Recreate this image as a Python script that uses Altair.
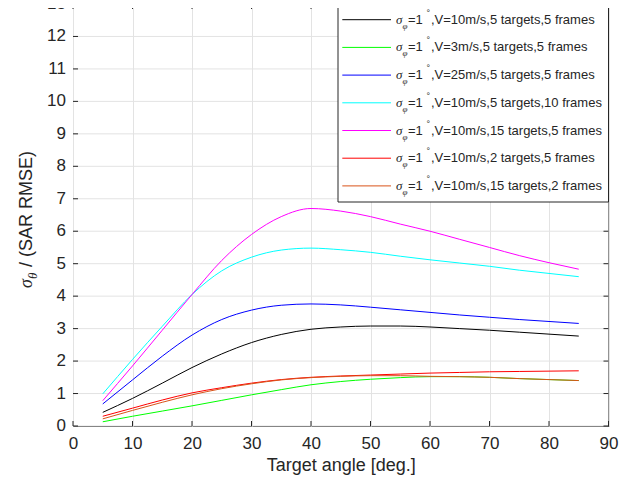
import altair as alt
import pandas as pd

# ---------------- data ----------------
angles = [5, 10, 15, 20, 25, 30, 35, 40, 45, 50, 55, 60, 65, 70, 75, 80, 85]

s_v10_t5_f5 = [0.42, 0.85, 1.32, 1.80, 2.22, 2.57, 2.82, 2.98, 3.05, 3.08, 3.08, 3.05, 3.00, 2.95, 2.89, 2.83, 2.77]
s_v3_t5_f5 = [0.13, 0.30, 0.46, 0.62, 0.79, 0.96, 1.12, 1.27, 1.37, 1.44, 1.49, 1.52, 1.52, 1.50, 1.46, 1.43, 1.40]
s_v25_t5_f5 = [0.68, 1.42, 2.15, 2.80, 3.28, 3.57, 3.72, 3.76, 3.73, 3.66, 3.58, 3.50, 3.42, 3.35, 3.28, 3.22, 3.16]
s_v10_t5_f10 = [0.99, 2.05, 3.07, 4.05, 4.78, 5.20, 5.42, 5.48, 5.43, 5.35, 5.23, 5.12, 5.02, 4.92, 4.80, 4.70, 4.60]
s_v10_t15_f5 = [0.78, 1.85, 2.95, 4.05, 5.10, 5.90, 6.45, 6.70, 6.62, 6.45, 6.22, 6.00, 5.75, 5.50, 5.25, 5.03, 4.83]
s_v10_t2_f5 = [0.30, 0.55, 0.80, 1.02, 1.18, 1.32, 1.43, 1.50, 1.54, 1.57, 1.60, 1.63, 1.65, 1.67, 1.68, 1.69, 1.70]
s_v10_t15_f2 = [0.22, 0.48, 0.73, 0.96, 1.15, 1.30, 1.42, 1.49, 1.53, 1.55, 1.55, 1.53, 1.52, 1.50, 1.46, 1.43, 1.40]

series_values = [s_v10_t5_f5, s_v3_t5_f5, s_v25_t5_f5, s_v10_t5_f10,
                 s_v10_t15_f5, s_v10_t2_f5, s_v10_t15_f2]

legend_rest = [",V=10m/s,5 targets,5 frames",
               ",V=3m/s,5 targets,5 frames",
               ",V=25m/s,5 targets,5 frames",
               ",V=10m/s,5 targets,10 frames",
               ",V=10m/s,15 targets,5 frames",
               ",V=10m/s,2 targets,5 frames",
               ",V=10m/s,15 targets,2 frames"]
series_names = ["σφ=1°" + r for r in legend_rest]
colors = ["#000000", "#00ff00", "#0000ff", "#00ffff", "#ff00ff", "#ff0000", "#d95319"]

x_ticks = [0, 10, 20, 30, 40, 50, 60, 70, 80, 90]
y_ticks = list(range(0, 14))
y_tick_labels = [str(v) for v in y_ticks]

x_title = "Target angle [deg.]"
y_title_sym = "σ"
y_title_sub = "θ"
y_title_rest = "/ (SAR RMSE)"

# ---------------- layout constants ----------------
W, H = 535.5, 422
FONT = "Liberation Sans"
AX = "#262626"
GRID = "#e3e3e3"
TICKFS = 17

rows = []
for name, vals in zip(series_names, series_values):
    for a, v in zip(angles, vals):
        rows.append({"angle": a, "value": v, "series": name})
df = pd.DataFrame(rows)

xs = alt.Scale(domain=[0, 90], nice=False, zero=False)
ys = alt.Scale(domain=[0, 13], nice=False, zero=False)
x_axis = alt.Axis(values=x_ticks, title=x_title, grid=True,
                  labelOverlap=False, labelFlush=False, labelBound=False)

xt = pd.DataFrame({"v": x_ticks})
yt = pd.DataFrame({"v": y_ticks, "lab": y_tick_labels})

# horizontal grid + y labels drawn from the y scale
y_grid = alt.Chart(yt).mark_rule(color=GRID, strokeWidth=1).encode(
    y=alt.Y("v:Q", scale=ys, axis=None), x=alt.value(0), x2=alt.value(W))
y_labels = alt.Chart(yt).mark_text(font=FONT, fontSize=TICKFS, color=AX, align="right",
                                   baseline="middle").encode(
    y=alt.Y("v:Q", scale=ys, axis=None), x=alt.value(-7), text="lab:N")

lines = alt.Chart(df).mark_line(strokeWidth=1, interpolate="monotone").encode(
    x=alt.X("angle:Q", scale=xs, axis=x_axis),
    y=alt.Y("value:Q", scale=ys, axis=None),
    color=alt.Color("series:N", scale=alt.Scale(domain=series_names, range=colors), legend=None),
    detail="series:N",
)

tick_bottom = alt.Chart(xt).mark_rule(color=AX, strokeWidth=1).encode(
    x=alt.X("v:Q", scale=xs, axis=x_axis), y=alt.value(H), y2=alt.value(H - 5))
tick_top = alt.Chart(xt).mark_rule(color=AX, strokeWidth=1).encode(
    x=alt.X("v:Q", scale=xs, axis=x_axis), y=alt.value(0), y2=alt.value(5))
tick_left = alt.Chart(yt).mark_rule(color=AX, strokeWidth=1).encode(
    y=alt.Y("v:Q", scale=ys, axis=None), x=alt.value(0), x2=alt.value(5))
tick_right = alt.Chart(yt).mark_rule(color=AX, strokeWidth=1).encode(
    y=alt.Y("v:Q", scale=ys, axis=None), x=alt.value(W), x2=alt.value(W - 5))

ytitle_df = pd.DataFrame({"a": [y_title_sym], "b": [y_title_sub], "c": [y_title_rest]})
yt_sym = alt.Chart(ytitle_df).mark_text(angle=270, align="left", baseline="middle",
                                        font="Liberation Serif", fontStyle="italic",
                                        fontSize=18, color=AX).encode(
    text="a:N", x=alt.value(-46), y=alt.value(284))
yt_sub = alt.Chart(ytitle_df).mark_text(angle=270, align="left", baseline="middle",
                                        font="Liberation Serif", fontStyle="italic",
                                        fontSize=13, color=AX).encode(
    text="b:N", x=alt.value(-40), y=alt.value(275))
yt_rest = alt.Chart(ytitle_df).mark_text(angle=270, align="left", baseline="middle",
                                         font=FONT, fontSize=18, color=AX).encode(
    text="c:N", x=alt.value(-46), y=alt.value(263))

main = alt.layer(y_grid, lines, tick_bottom, tick_top, tick_left, tick_right,
                 y_labels, yt_sym, yt_sub, yt_rest)

# ---------------- legend ----------------
leg_df = pd.DataFrame({"row": list(range(len(series_names))),
                       "series": series_names,
                       "rest": legend_rest,
                       "color": colors,
                       "sym": ["σ"] * 7, "sub": ["φ"] * 7, "eq": ["=1"] * 7, "deg": ["°"] * 7})
ly = alt.Y("row:Q", scale=alt.Scale(domain=[0, 6], range=[15.7, 181.9]), axis=None)

leg_box = alt.Chart(pd.DataFrame({"k": [0]})).mark_rect(fill="white", stroke=AX, strokeWidth=1).encode(
    x=alt.value(265), x2=alt.value(W), y=alt.value(0), y2=alt.value(198))
leg_lines = alt.Chart(leg_df).mark_rule(strokeWidth=1).encode(
    x=alt.value(269.3), x2=alt.value(318), y=ly,
    color=alt.Color("color:N", scale=None))
txt = dict(baseline="middle", align="left", color=AX)
leg_sym = alt.Chart(leg_df).mark_text(font="Liberation Serif", fontStyle="italic", fontSize=13, **txt).encode(
    text="sym:N", x=alt.value(323), y=ly)
leg_sub = alt.Chart(leg_df).mark_text(font="Liberation Serif", fontStyle="italic", fontSize=9, dy=6, **txt).encode(
    text="sub:N", x=alt.value(329.5), y=ly)
leg_eq = alt.Chart(leg_df).mark_text(font=FONT, fontSize=13, **txt).encode(
    text="eq:N", x=alt.value(335), y=ly)
leg_deg = alt.Chart(leg_df).mark_text(font=FONT, fontSize=9, dy=-7, **txt).encode(
    text="deg:N", x=alt.value(353.5), y=ly)
leg_rest = alt.Chart(leg_df).mark_text(font=FONT, fontSize=13, **txt).encode(
    text="rest:N", x=alt.value(358), y=ly)

legend = alt.layer(leg_box, leg_lines, leg_sym, leg_sub, leg_eq, leg_deg, leg_rest)

chart = alt.layer(main, legend).resolve_scale(y="independent", color="independent").properties(
    width=W, height=H,
    autosize=alt.AutoSizeParams(type="none"),
    padding={"left": 65, "top": -4, "right": 24, "bottom": 52},
).configure_view(stroke=AX, strokeWidth=1).configure_axis(
    domain=False, ticks=False, gridColor=GRID, gridWidth=1,
    labelFont=FONT, labelFontSize=TICKFS, labelColor=AX,
    labelFlush=False, labelOverlap=False, labelBound=False,
    titleFont=FONT, titleFontSize=18, titleFontWeight="normal", titleColor=AX,
).configure_axisX(labelPadding=9, titlePadding=5)

chart.save("out.html", embed_options={"renderer": "svg", "actions": False})
